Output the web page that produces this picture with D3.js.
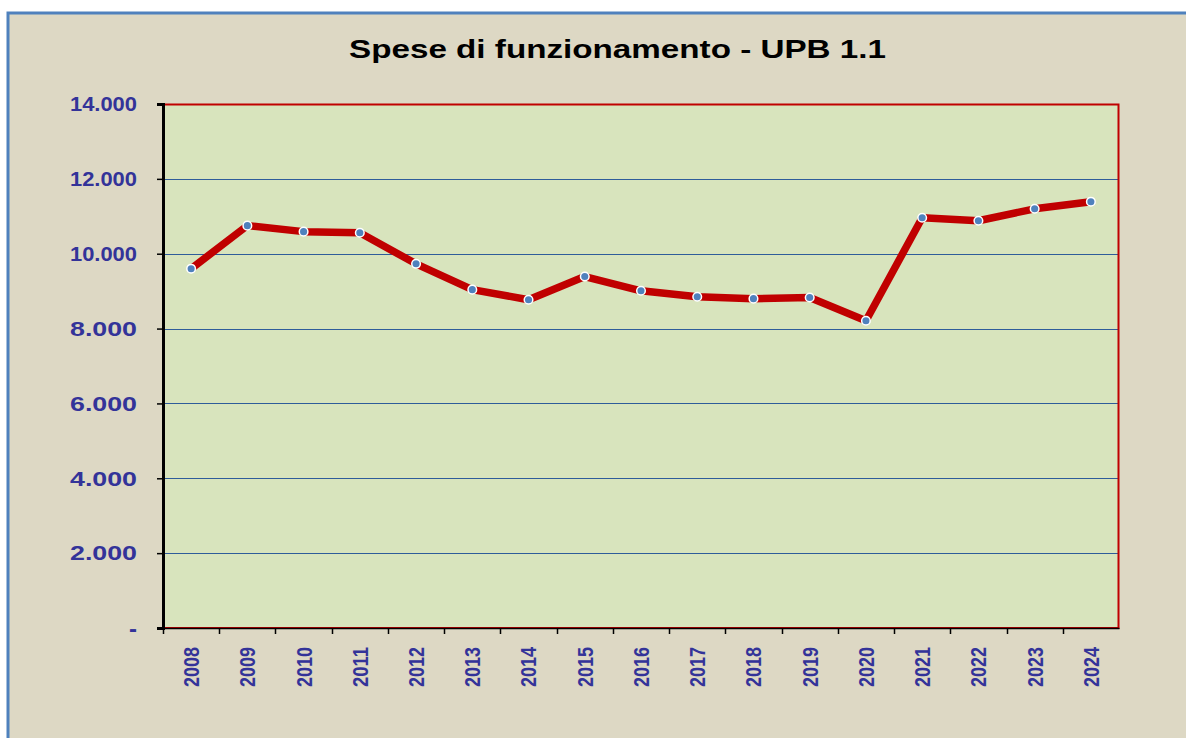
<!DOCTYPE html>
<html>
<head>
<meta charset="utf-8">
<script src="https://cdn.jsdelivr.net/npm/d3@7"></script>
<style>
  body { margin: 0; background: #fff; }
  svg { display: block; }
</style>
</head>
<body>
<div id="chart"></div>
<script>
// data
var years = ["2008","2009","2010","2011","2012","2013","2014","2015","2016","2017","2018","2019","2020","2021","2022","2023","2024"];
var spese = [9600,10750,10590,10560,9730,9040,8770,9390,9010,8850,8800,8830,8210,10960,10880,11200,11390];
var yTicks = [0,2000,4000,6000,8000,10000,12000,14000];

var W = 1186, H = 738;
var margin = { top: 104, right: 67, bottom: 110, left: 163 };
var width = W - margin.left - margin.right,
    height = H - margin.top - margin.bottom;
var FONT = "'Liberation Sans', Arial, sans-serif";

var svg = d3.select("#chart").append("svg")
  .attr("width", W)
  .attr("height", H);

// outer frame
svg.append("rect")
  .attr("x", 8).attr("y", 13)
  .attr("width", W + 10).attr("height", H + 10)
  .attr("fill", "#DDD8C4")
  .attr("stroke", "#4F81BD")
  .attr("stroke-width", 3);

svg.append("text")
  .attr("x", 349).attr("y", 58)
  .attr("textLength", 537)
  .attr("lengthAdjust", "spacingAndGlyphs")
  .style("font-family", FONT)
  .style("font-weight", "bold")
  .style("font-size", "25px")
  .attr("fill", "#000")
  .text("Spese di funzionamento - UPB 1.1");

var g = svg.append("g")
  .attr("transform", "translate(" + margin.left + "," + margin.top + ")");

var x = d3.scaleBand().domain(years).range([0, width]);
var y = d3.scaleLinear().domain([0, 14000]).range([height, 0]);

g.append("rect")
  .attr("width", width).attr("height", height)
  .attr("fill", "#D8E4BD");

// gridlines
g.selectAll(".grid")
  .data(yTicks.filter(function(d){ return d > 0 && d < 14000; }))
  .enter().append("line")
  .attr("class", "grid")
  .attr("x1", 0).attr("x2", width)
  .attr("y1", function(d){ return Math.round(y(d)) + 0.5; })
  .attr("y2", function(d){ return Math.round(y(d)) + 0.5; })
  .attr("stroke", "#2E5C9A")
  .attr("stroke-width", 1);

// plot border (red top/right/bottom)
g.append("path")
  .attr("d", "M0,0.5H" + (width - 0.5) + "V" + height + "H0")
  .attr("fill", "none")
  .attr("stroke", "#C00000")
  .attr("stroke-width", 2);

// y axis
var yAxis = d3.axisLeft(y).tickValues(yTicks).tickSize(6)
  .tickFormat(function(d){ return d === 0 ? "-" : d3.format(",")(d).replace(/,/g, "."); });
var ya = g.append("g").call(yAxis);
ya.select(".domain").attr("stroke", "#000").attr("stroke-width", 3);
ya.selectAll(".tick line").attr("stroke", "#000").attr("stroke-width", 1.5);
ya.selectAll("text")
  .attr("x", -26).attr("dy", "0.35em")
  .attr("fill", "#333399")
  .style("font-family", FONT)
  .style("font-weight", "bold")
  .style("font-size", "19.5px")
  .each(function(d){
    if (d !== 0) d3.select(this).attr("textLength", 67).attr("lengthAdjust", "spacingAndGlyphs");
    else d3.select(this).style("font-size", "24px");
  });

// x axis
var xAxis = d3.axisBottom(x).tickSize(0).tickFormat(function(d){ return d; });
var xa = g.append("g").attr("transform", "translate(0," + height + ")").call(xAxis);
xa.select(".domain").attr("stroke", "#000").attr("stroke-width", 1.5);
xa.selectAll("text")
  .attr("transform", "rotate(-90)")
  .attr("x", -19).attr("y", 0).attr("dy", "0.36em")
  .attr("textLength", 40)
  .attr("lengthAdjust", "spacingAndGlyphs")
  .attr("fill", "#333399")
  .style("font-family", FONT)
  .style("font-weight", "bold")
  .style("font-size", "22px")
  .style("text-anchor", "end");
// ticks between categories
xa.selectAll(".sep")
  .data(years.concat(["end"]))
  .enter().append("line")
  .attr("class", "sep")
  .attr("x1", function(d, i){ return Math.round(i * x.step()) + 0.5; })
  .attr("x2", function(d, i){ return Math.round(i * x.step()) + 0.5; })
  .attr("y1", 0).attr("y2", 6)
  .attr("stroke", "#000")
  .attr("stroke-width", function(d, i){ return i === years.length ? 0 : 1.5; });

// line
var line = d3.line()
  .x(function(d, i){ return x(years[i]) + x.bandwidth() / 2; })
  .y(function(d){ return y(d); });

g.append("path")
  .datum(spese)
  .attr("d", line)
  .attr("fill", "none")
  .attr("stroke", "#C00000")
  .attr("stroke-width", 7.5)
  .attr("stroke-linejoin", "round");

g.selectAll(".dot")
  .data(spese)
  .enter().append("circle")
  .attr("class", "dot")
  .attr("cx", function(d, i){ return x(years[i]) + x.bandwidth() / 2; })
  .attr("cy", function(d){ return y(d); })
  .attr("r", 4.3)
  .attr("fill", "#4F81BD")
  .attr("stroke", "#fff")
  .attr("stroke-width", 1.5);
</script>
</body>
</html>
